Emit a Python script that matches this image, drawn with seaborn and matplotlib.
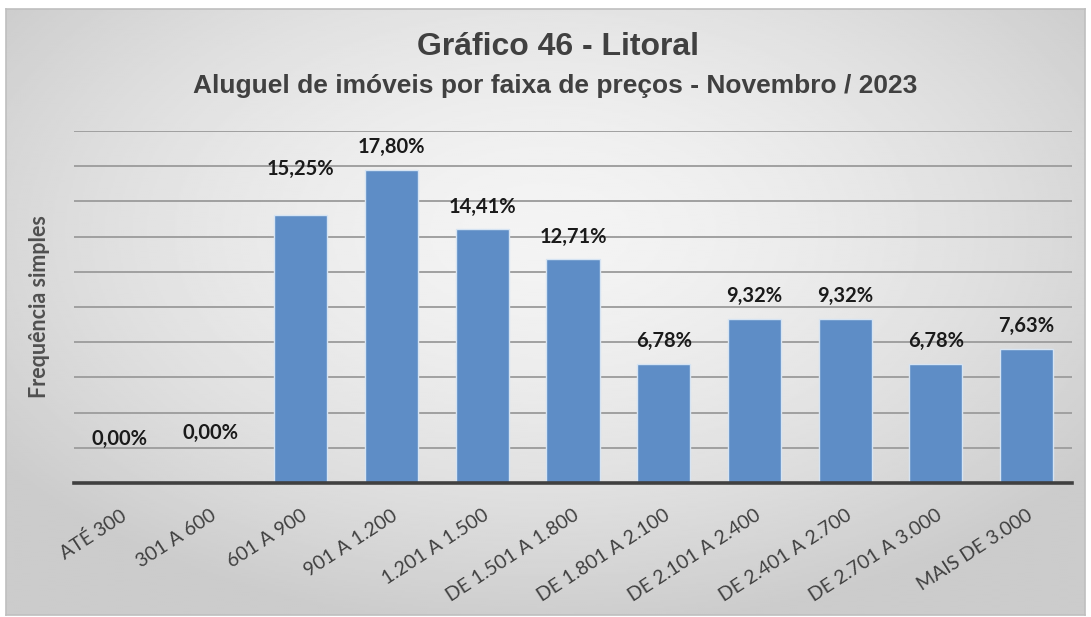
import numpy as np
import matplotlib
matplotlib.use("Agg")
import matplotlib.pyplot as plt
import seaborn as sns
import pandas as pd

# Price ranges and share of rentals (%)
faixas = ["ATÉ 300", "301 A 600", "601 A 900", "901 A 1.200", "1.201 A 1.500",
          "DE 1.501 A 1.800", "DE 1.801 A 2.100", "DE 2.101 A 2.400",
          "DE 2.401 A 2.700", "DE 2.701 A 3.000", "MAIS DE 3.000"]
percentuais = [0.00, 0.00, 15.25, 17.80, 14.41, 12.71, 6.78, 9.32, 9.32, 6.78, 7.63]

titulo = "Gráfico 46 - Litoral"
subtitulo = "Aluguel de imóveis por faixa de preços - Novembro / 2023"
rotulo_y = "Frequência simples"

# extra lift (pixels) for some data labels, as laid out in the spreadsheet
lift_px = [22, 28, 23, 0, 0, 0, 0, 0, 0, 0, 0]

sns.set_theme(style="white")
plt.rcParams["font.family"] = ["Liberation Sans", "DejaVu Sans"]

W, H, DPI = 1091, 617, 100
fig = plt.figure(figsize=(W / DPI, H / DPI), dpi=DPI)
fig.patch.set_facecolor("white")

# radial gray background of the chart frame
bg = fig.add_axes([6 / W, 2 / H, 1079 / W, 606 / H])
yy, xx = np.mgrid[0:300, 0:540]
cx, cy = 270, 110
r = np.sqrt(((xx - cx) / 540) ** 2 + ((yy - cy) / 300) ** 2 * 0.9)
r = np.clip(r / 0.62, 0, 1)
lo, hi = 0.955, 0.80
shade = lo + (hi - lo) * r ** 1.6
bg.imshow(shade, cmap="gray", vmin=0, vmax=1, aspect="auto",
          extent=[0, 1, 0, 1], interpolation="bilinear")
bg.set_xlim(0, 1)
bg.set_ylim(0, 1)
bg.set_xticks([])
bg.set_yticks([])
for s in bg.spines.values():
    s.set_color("#bfbfbf")
    s.set_linewidth(1.2)

ax = fig.add_axes([74 / W, 134 / H, 998 / W, 352 / H])
ax.set_facecolor("none")

df = pd.DataFrame({"faixa": faixas, "pct": percentuais})
sns.barplot(data=df, x="faixa", y="pct", color="#5e8dc6", saturation=1,
            width=0.585, edgecolor="#d6e4f3", linewidth=1.0, ax=ax, zorder=3)

ax.set_ylim(0, 20)
ax.set_xlim(-0.5, len(faixas) - 0.5)
ax.set_yticks(np.arange(0, 21, 2))
ax.set_yticklabels([])
ax.tick_params(axis="y", length=0)
ax.grid(axis="y", color="#a0a0a0", linewidth=1.4, zorder=0)
ax.set_axisbelow(True)
for side in ["top", "right", "left"]:
    ax.spines[side].set_visible(False)
ax.spines["bottom"].set_color("#404040")
ax.spines["bottom"].set_linewidth(2.6)
ax.spines["bottom"].set_zorder(4)

ax.set_xlabel("")
ax.set_ylabel("")
ax.tick_params(axis="x", length=0, pad=17)
ax.set_xticks(range(len(faixas)))
ax.set_xticklabels(faixas, rotation=33, ha="right", rotation_mode="anchor",
                   fontsize=14, color="#404040", family=["Lato", "DejaVu Sans"])

for i, v in enumerate(percentuais):
    ax.annotate(f"{v:.2f}%".replace(".", ","), xy=(i, v),
                xytext=(0, 9 + lift_px[i] * 0.72), textcoords="offset points",
                ha="center", va="bottom", fontsize=14.5, fontweight="bold",
                color="#1a1a1a", family=["Lato", "DejaVu Sans"])

fig.text(40 / W, 1 - 307 / H, rotulo_y, rotation=90, ha="center", va="center",
         fontsize=15.5, fontweight="bold", color="#505050",
         family=["Lato", "DejaVu Sans"])
fig.text(558 / W, 1 - 47 / H, titulo, ha="center", va="center",
         fontsize=23, fontweight="bold", color="#404040")
fig.text(555 / W, 1 - 86 / H, subtitulo, ha="center", va="center",
         fontsize=19, fontweight="bold", color="#404040")

fig.savefig("out.png", dpi=DPI)
